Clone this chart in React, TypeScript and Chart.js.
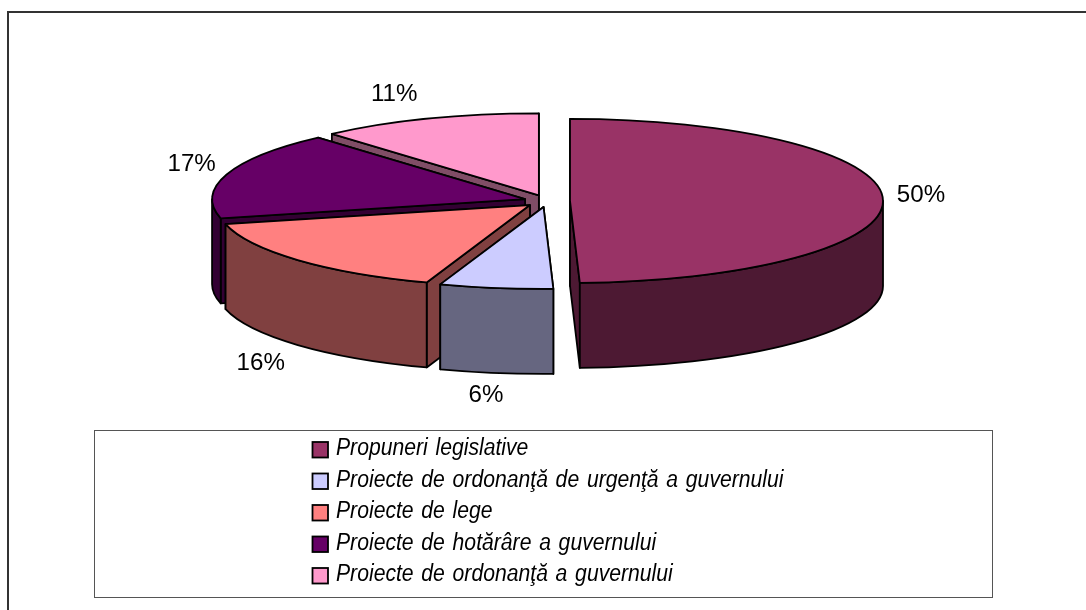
import React, { useEffect, useRef } from "react";
import { Chart, registerables } from "chart.js";

Chart.register(...registerables);

const categories = [
  "Propuneri legislative",
  "Proiecte de ordonanţă de urgenţă a guvernului",
  "Proiecte de lege",
  "Proiecte de hotărâre a guvernului",
  "Proiecte de ordonanţă a guvernului",
];
const shares = [49.5, 5.85, 15.9, 17.25, 11.5];
const percentLabels = ["50%", "6%", "16%", "17%", "11%"];
const topColors = ["#993366", "#ccccff", "#ff8080", "#660066", "#ff99cc"];
const wallColors = ["#4d1933", "#666680", "#804040", "#330033", "#804d66"];
const labelNudges = [[38, -3.5], [-10, 22.5], [-37, 18.5], [-35, -9.5], [-34, -23.5]];

const FONT = '"Liberation Sans", Arial, sans-serif';
const CX = 547;
const CY = 201;
const RADIUS = 313;
const SQUASH = 0.262;
const EXPLODE = 23;
const DEPTH = 85;

type Geo = { x: number; y: number; a: number; b: number; rx: number; ry: number };

function geometry(arc: any): Geo {
  const mid = (arc.startAngle + arc.endAngle) / 2;
  return {
    x: arc.x + Math.cos(mid) * EXPLODE,
    y: CY + (arc.y - CY + Math.sin(mid) * EXPLODE) * SQUASH,
    a: arc.startAngle,
    b: arc.endAngle,
    rx: arc.outerRadius,
    ry: arc.outerRadius * SQUASH,
  };
}

function edge(g: Geo, t: number) {
  return { x: g.x + Math.cos(t) * g.rx, y: g.y + Math.sin(t) * g.ry };
}

function drawRadialWall(ctx: CanvasRenderingContext2D, g: Geo, t: number, color: string) {
  const p = edge(g, t);
  ctx.beginPath();
  ctx.moveTo(g.x, g.y);
  ctx.lineTo(p.x, p.y);
  ctx.lineTo(p.x, p.y + DEPTH);
  ctx.lineTo(g.x, g.y + DEPTH);
  ctx.closePath();
  ctx.fillStyle = color;
  ctx.fill();
  ctx.stroke();
}

function drawOuterWall(ctx: CanvasRenderingContext2D, g: Geo, color: string) {
  // only the part of the rim that faces the viewer (canvas angles 0..PI, modulo a turn)
  const turn = Math.PI * 2;
  for (const k of [-1, 0, 1]) {
    const from = Math.max(g.a, k * turn);
    const to = Math.min(g.b, k * turn + Math.PI);
    if (to <= from) continue;
    ctx.beginPath();
    ctx.ellipse(g.x, g.y, g.rx, g.ry, 0, from, to);
    ctx.ellipse(g.x, g.y + DEPTH, g.rx, g.ry, 0, to, from, true);
    ctx.closePath();
    ctx.fillStyle = color;
    ctx.fill();
    ctx.stroke();
  }
}

const pie3d = {
  id: "pie3d",
  beforeDatasetDraw(chart: any, args: any) {
    const ctx: CanvasRenderingContext2D = chart.ctx;
    const arcs: any[] = args.meta.data;
    ctx.save();
    ctx.strokeStyle = "#000";
    ctx.lineWidth = 1.8;
    ctx.lineJoin = "round";

    const geos = arcs.map(geometry);
    // walls, from the back of the pie to the front
    [4, 3, 2, 1, 0].forEach((i) => {
      const g = geos[i];
      const rear = edge(g, g.a).y < edge(g, g.b).y ? [g.a, g.b] : [g.b, g.a];
      drawRadialWall(ctx, g, rear[0], wallColors[i]);
      drawRadialWall(ctx, g, rear[1], wallColors[i]);
      drawOuterWall(ctx, g, wallColors[i]);
    });

    // top faces: the library's own arc, flattened and moved out
    arcs.forEach((arc, i) => {
      const g = geos[i];
      ctx.save();
      ctx.translate(g.x, g.y);
      ctx.scale(1, SQUASH);
      ctx.translate(-arc.x, -arc.y);
      arc.draw(ctx);
      ctx.restore();
      ctx.beginPath();
      ctx.moveTo(g.x, g.y);
      ctx.ellipse(g.x, g.y, g.rx, g.ry, 0, g.a, g.b);
      ctx.closePath();
      ctx.stroke();
    });

    // percentage labels
    ctx.fillStyle = "#000";
    ctx.textAlign = "center";
    ctx.textBaseline = "middle";
    ctx.font = `23px ${FONT}`;
    arcs.forEach((arc, i) => {
      const g = geos[i];
      const mid = (g.a + g.b) / 2;
      const p = edge(g, mid);
      const lower = Math.sin(mid) > 0.5 ? DEPTH : 0;
      ctx.save();
      ctx.translate(p.x + labelNudges[i][0], p.y + lower + labelNudges[i][1]);
      ctx.scale(1.05, 1);
      ctx.fillText(percentLabels[i], 0, 0);
      ctx.restore();
    });
    ctx.restore();
    return false;
  },
  afterDraw(chart: any) {
    const ctx: any = chart.ctx;
    ctx.save();
    // outer frame: left and top edges only, running off the page
    ctx.strokeStyle = "#333";
    ctx.lineWidth = 2;
    ctx.beginPath();
    ctx.moveTo(8, 610);
    ctx.lineTo(8, 12);
    ctx.lineTo(1086, 12);
    ctx.stroke();
    // legend box
    ctx.strokeStyle = "#555";
    ctx.lineWidth = 1;
    ctx.strokeRect(94.5, 430.5, 898, 167);
    // legend rows
    ctx.textAlign = "left";
    ctx.textBaseline = "middle";
    ctx.font = `italic 23px ${FONT}`;
    ctx.wordSpacing = "2px";
    categories.forEach((name, i) => {
      const y = 450 + i * 31.5;
      ctx.fillStyle = topColors[i];
      ctx.strokeStyle = "#000";
      ctx.lineWidth = 1.8;
      ctx.fillRect(312.5, y - 8, 15.5, 15.5);
      ctx.strokeRect(312.5, y - 8, 15.5, 15.5);
      ctx.fillStyle = "#000";
      ctx.save();
      ctx.translate(336, y - 1);
      ctx.scale(0.92, 1);
      ctx.fillText(name, 0, 0);
      ctx.restore();
    });
    ctx.restore();
  },
};

export default function App() {
  const ref = useRef<HTMLCanvasElement>(null);
  useEffect(() => {
    const chart = new Chart(ref.current as HTMLCanvasElement, {
      type: "pie",
      data: {
        labels: categories,
        datasets: [
          {
            data: shares,
            backgroundColor: topColors,
            borderWidth: 0,
            offset: 0,
          },
        ],
      },
      options: {
        responsive: false,
        animation: false,
        radius: RADIUS,
        layout: { padding: { left: CX * 2 - 1086, bottom: 610 - CY * 2 } },
        plugins: { legend: { display: false }, tooltip: { enabled: false } },
      },
      plugins: [pie3d],
    } as any);
    return () => chart.destroy();
  }, []);
  return (
    <div style={{ position: "fixed", left: 0, top: 0, width: 1086, height: 610, background: "#fff" }}>
      <canvas ref={ref} width={1086} height={610} style={{ display: "block" }} />
    </div>
  );
}
